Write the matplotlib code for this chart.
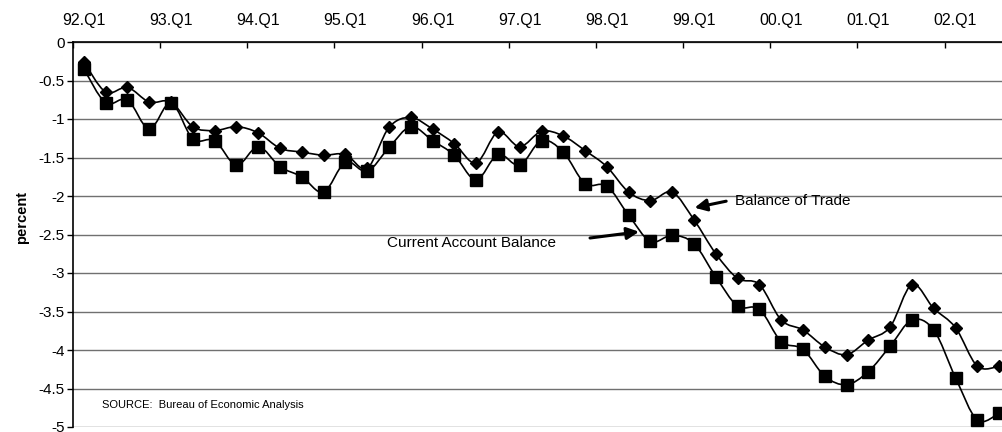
import matplotlib
matplotlib.use('Agg')
import matplotlib.pyplot as plt
from matplotlib.path import Path
from matplotlib.patches import PathPatch
import numpy as np

plt.rcParams['font.family'] = ['Liberation Sans', 'DejaVu Sans']

# quarterly data, 92.Q1 .. 02.Q3 (percent of GDP)
years = ['92', '93', '94', '95', '96', '97', '98', '99', '00', '01', '02']
quarters = [f'{y}.Q{q}' for y in years for q in range(1, 5)][:43]

trade = [-0.26, -0.65, -0.59, -0.78, -0.78, -1.10, -1.15, -1.10, -1.18, -1.38,
         -1.43, -1.47, -1.46, -1.64, -1.11, -0.98, -1.13, -1.32, -1.57, -1.17,
         -1.36, -1.16, -1.22, -1.41, -1.62, -1.95, -2.06, -1.95, -2.31, -2.75,
         -3.07, -3.15, -3.61, -3.74, -3.96, -4.06, -3.87, -3.70, -3.15, -3.46,
         -3.71, -4.21, -4.21]
current = [-0.35, -0.79, -0.75, -1.13, -0.79, -1.26, -1.28, -1.60, -1.36, -1.62,
           -1.75, -1.95, -1.56, -1.68, -1.37, -1.10, -1.28, -1.47, -1.79, -1.46,
           -1.60, -1.28, -1.43, -1.84, -1.87, -2.25, -2.59, -2.51, -2.62, -3.05,
           -3.43, -3.47, -3.89, -3.99, -4.34, -4.45, -4.28, -3.95, -3.61, -3.74,
           -4.36, -4.91, -4.82]


def smooth_path(xs, ys):
    """Excel-like smoothed line as cubic bezier segments"""
    pts = np.column_stack([xs, ys]).astype(float)
    n = len(pts)
    verts = [pts[0]]
    codes = [Path.MOVETO]
    for i in range(n - 1):
        p0 = pts[i - 1] if i > 0 else pts[i]
        p1 = pts[i]
        p2 = pts[i + 1]
        p3 = pts[i + 2] if i + 2 < n else pts[i + 1]
        c1 = p1 + (p2 - p0) / 6.0
        c2 = p2 - (p3 - p1) / 6.0
        verts += [c1, c2, p2]
        codes += [Path.CURVE4] * 3
    return Path(verts, codes)


fig = plt.figure(figsize=(10.03, 4.32), dpi=100)
ax = fig.add_axes([73 / 1003, 5 / 432, 937 / 1003, 385 / 432])

x = np.arange(len(quarters))
for vals, marker, ms in [(trade, 'D', 6), (current, 's', 8)]:
    ax.add_patch(PathPatch(smooth_path(x, vals), facecolor='none',
                           edgecolor='black', lw=1.2, zorder=3))
    ax.plot(x, vals, linestyle='none', marker=marker, markersize=ms,
            color='black', zorder=4, clip_on=False)

ax.set_xlim(-0.5, len(quarters) - 0.5)
ax.set_ylim(-5, 0)

# y axis
yt = np.arange(-5, 0.01, 0.5)
ax.set_yticks(yt)
ax.set_yticklabels([f'{v:g}' for v in yt], fontsize=11)
ax.tick_params(axis='y', direction='out', length=4, width=1, pad=2)
ax.yaxis.grid(True, color='#707070', lw=1)
ax.set_axisbelow(True)

# x axis on top: tick marks between years, labels on Q1
ax.xaxis.tick_top()
ax.set_xticks(np.arange(-0.5, len(quarters), 4))
ax.set_xticklabels([])
ax.set_xticks(np.arange(0, len(quarters), 4), minor=True)
ax.set_xticklabels(quarters[::4], minor=True, fontsize=11.5)
ax.tick_params(axis='x', which='major', direction='in', length=4, width=1)
ax.tick_params(axis='x', which='minor', length=0, pad=10)

for s in ['right', 'bottom']:
    ax.spines[s].set_visible(False)
for s in ['left', 'top']:
    ax.spines[s].set_linewidth(1.2)

fig.text(22 / 1003, 1 - 218 / 432, 'percent', rotation=90, ha='center',
         va='center', fontsize=10.5, fontweight='bold')

arrow = dict(arrowstyle='-|>', color='black', lw=2.2, mutation_scale=18)
ax.annotate('', xy=(27.9, -2.16), xytext=(29.6, -2.06), arrowprops=arrow)
ax.text(29.9, -2.07, 'Balance of Trade', fontsize=11, va='center')
ax.annotate('', xy=(25.6, -2.46), xytext=(23.1, -2.55), arrowprops=arrow)
ax.text(13.9, -2.61, 'Current Account Balance', fontsize=11, va='center')

ax.text(0.85, -4.72, 'SOURCE:  Bureau of Economic Analysis', fontsize=8, va='center')

fig.savefig('out.png', dpi=100)
